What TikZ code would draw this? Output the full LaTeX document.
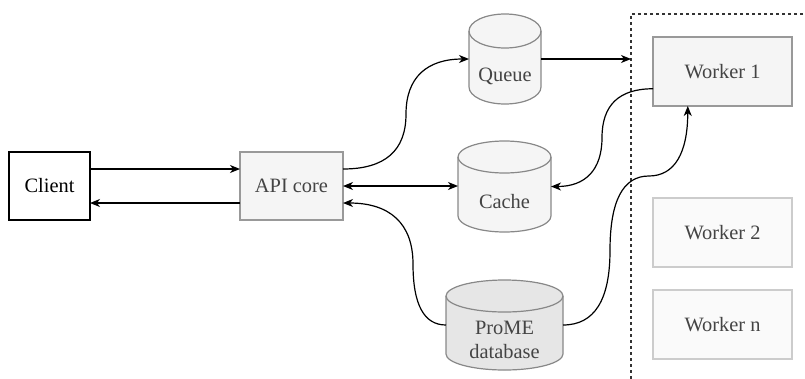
\documentclass[tikz,border=0pt]{standalone}
\usepackage{fontspec}
\setmainfont{Liberation Serif}
\usetikzlibrary{calc,arrows.meta}
\definecolor{boxfill}{HTML}{F5F5F5}
\definecolor{boxline}{HTML}{999999}
\definecolor{lightfill}{HTML}{FAFAFA}
\definecolor{lightline}{HTML}{CCCCCC}
\definecolor{dbfill}{HTML}{E6E6E6}
\definecolor{cylline}{HTML}{888888}
\definecolor{txtgray}{HTML}{444444}
\definecolor{contline}{HTML}{333333}
\newcommand\qseg[3]{.. controls ($(#1)!0.6667!(#2)$) and ($(#3)!0.6667!(#2)$) .. (#3)}
\tikzset{
  >={Stealth[length=10pt,width=8pt,inset=3pt]},
  plainbox/.style={rectangle, draw=black, fill=white, line width=1.2pt, inner sep=0pt, outer sep=0pt, text=black},
  graybox/.style={rectangle, draw=boxline, fill=boxfill, line width=1.2pt, inner sep=0pt, outer sep=0pt, text=txtgray},
  lightbox/.style={rectangle, draw=lightline, fill=lightfill, line width=1.2pt, inner sep=0pt, outer sep=0pt, text=txtgray},
  ghost/.style={rectangle, draw=none, inner sep=0pt, outer sep=0pt},
  cylbody/.style={draw=cylline, line width=1.2pt},
  cyltext/.style={inner sep=0pt, text=txtgray, align=center},
  contbox/.style={rectangle, draw=contline, line width=1.2pt, dash pattern=on 3pt off 3pt, inner sep=0pt, outer sep=0pt},
  conn/.style={draw=black, line width=1.2pt},
}
\begin{document}
\begin{tikzpicture}[x=1pt,y=-1pt,font=\fontsize{20.4}{24}\selectfont]
\useasboundingbox (0,0) rectangle (805,378);
% container
\node[contbox, minimum width=219pt, minimum height=406pt] (cont) at (740.5,217) {};
% boxes
\node[plainbox, minimum width=81pt, minimum height=68pt] (client) at (49.5,186) {Client};
\node[graybox, minimum width=103pt, minimum height=68pt] (api) at (291.5,186) {API core};
\node[graybox, minimum width=139pt, minimum height=69pt] (w1) at (722.5,71.5) {Worker 1};
\node[lightbox, minimum width=139pt, minimum height=69pt] (w2) at (722.5,232.5) {Worker 2};
\node[lightbox, minimum width=139pt, minimum height=69pt] (wn) at (722.5,324.5) {Worker n};
% Queue cylinder
\node[ghost, minimum width=72pt, minimum height=90pt] (queue) at (505,59) {};
\path[cylbody, fill=boxfill] (469,31) -- (469,87) arc[start angle=180,end angle=360,x radius=36pt,y radius=17pt] -- (541,31) arc[start angle=0,end angle=180,x radius=36pt,y radius=17pt] -- cycle;
\draw[cylbody] (469,31) arc[start angle=180,end angle=360,x radius=36pt,y radius=17pt];
\node[cyltext] (queuelbl) at (505,76) {Queue};
% Cache cylinder
\node[ghost, minimum width=93pt, minimum height=91pt] (cache) at (504.5,186.5) {};
\path[cylbody, fill=boxfill] (458,157) -- (458,216) arc[start angle=180,end angle=360,x radius=46.5pt,y radius=16pt] -- (551,157) arc[start angle=0,end angle=180,x radius=46.5pt,y radius=16pt] -- cycle;
\draw[cylbody] (458,157) arc[start angle=180,end angle=360,x radius=46.5pt,y radius=16pt];
\node[cyltext] (cachelbl) at (504.5,202) {Cache};
% ProME cylinder
\node[ghost, minimum width=117pt, minimum height=90pt] (prome) at (504.5,325) {};
\path[cylbody, fill=dbfill] (446,296) -- (446,354) arc[start angle=180,end angle=360,x radius=58.5pt,y radius=16pt] -- (563,296) arc[start angle=0,end angle=180,x radius=58.5pt,y radius=16pt] -- cycle;
\draw[cylbody] (446,296) arc[start angle=180,end angle=360,x radius=58.5pt,y radius=16pt];
\node[cyltext] (promelbl) at (504.5,340) {ProME\\database};
% Client <-> API
\coordinate (c1) at ($(client.north east)!.25!(client.south east)$);
\draw[conn,->] (c1) -- (c1 -| api.west);
\coordinate (c2) at ($(api.north west)!.75!(api.south west)$);
\draw[conn,->] (c2) -- (c2 -| client.east);
% API <-> Cache
\draw[conn,<->] (api.east) -- (api.east -| cache.west);
% API -> Queue
\coordinate (q0) at ($(api.north east)!.25!(api.south east)$);
\coordinate (qm) at ($(q0)!.5!(queue.west)$);
\coordinate (qc1) at (qm |- q0);
\coordinate (qc2) at (qm |- queue.west);
\draw[conn,->] (q0) \qseg{q0}{qc1}{qm} \qseg{qm}{qc2}{queue.west};
% Queue -> workers
\draw[conn,->] (queue.east) -- (queue.east -| cont.west);
% Worker 1 -> Cache
\coordinate (w0) at ($(w1.north west)!.75!(w1.south west)$);
\coordinate (wm) at ($(w0)!.5!(cache.east)$);
\coordinate (wc1) at (wm |- w0);
\coordinate (wc2) at (wm |- cache.east);
\draw[conn,->] (w0) \qseg{w0}{wc1}{wm} \qseg{wm}{wc2}{cache.east};
% ProME -> API
\coordinate (p0) at ($(api.north east)!.75!(api.south east)$);
\coordinate (pc1) at ([xshift=-33pt]prome.west);
\coordinate (pc2) at (pc1 |- p0);
\coordinate (pm) at ($(pc1)!.5!(pc2)$);
\draw[conn,->] (prome.west) \qseg{prome.west}{pc1}{pm} \qseg{pm}{pc2}{p0};
% ProME -> Worker 1
\coordinate (b1) at ($(w1.south west)!.25!(w1.south east)$);
\coordinate (rc1) at ([xshift=47pt]prome.east);
\coordinate (rc3) at ([yshift=-70pt]b1);
\coordinate (rc2) at (rc1 |- rc3);
\coordinate (rm1) at ($(rc1)!.5!(rc2)$);
\coordinate (rm2) at ($(rc2)!.5!(rc3)$);
\draw[conn,->] (prome.east) \qseg{prome.east}{rc1}{rm1} \qseg{rm1}{rc2}{rm2} \qseg{rm2}{rc3}{b1};
\end{tikzpicture}
\end{document}
